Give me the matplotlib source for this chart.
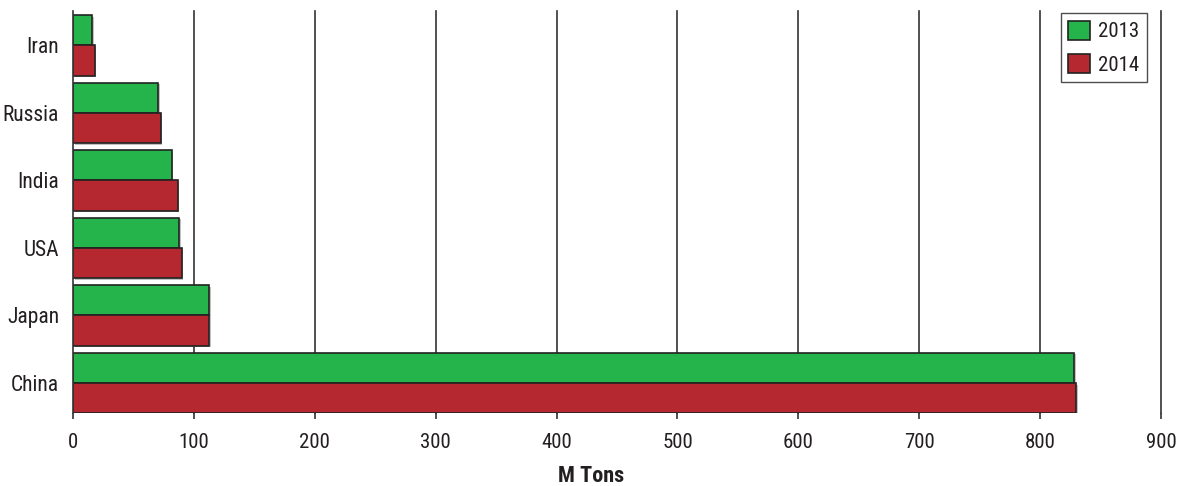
import matplotlib
matplotlib.use("Agg")
import matplotlib.pyplot as plt
import matplotlib.patheffects as pe
import numpy as np

countries = ["China", "Japan", "USA", "India", "Russia", "Iran"]
tons_2013 = [828, 112.5, 88, 81.5, 70.5, 16]
tons_2014 = [830, 112.5, 90, 86.5, 72.5, 18]
series_labels = ["2013", "2014"]
x_ticks = [0, 100, 200, 300, 400, 500, 600, 700, 800, 900]

plt.rcParams["font.family"] = ["Roboto Condensed", "Lato", "DejaVu Sans"]
text_color = "#231f20"
green = "#25b34b"
red = "#b5282f"

fig = plt.figure(figsize=(11.89, 4.86), dpi=100)
ax = fig.add_axes([0.0614, 0.1496, 0.9151, 0.8271])

y = np.arange(len(countries))
h = 0.45
shadow = [pe.SimplePatchShadow(offset=(1.2, -1.2), shadow_rgbFace="#999999", alpha=0.6), pe.Normal()]
b1 = ax.barh(y + h / 2, tons_2013, height=h, color=green, edgecolor="#222222",
             linewidth=1.2, label=series_labels[0], zorder=3)
b2 = ax.barh(y - h / 2, tons_2014, height=h, color=red, edgecolor="#222222",
             linewidth=1.2, label=series_labels[1], zorder=3)
for bar in list(b1) + list(b2):
    bar.set_path_effects(shadow)

ax.set_xlim(0, 900)
ax.set_ylim(-0.45, 5.505)
ax.set_xticks(x_ticks)
ax.set_yticks(y)
ax.set_yticklabels(countries)

for xv in x_ticks[1:]:
    ax.axvline(xv, color="#333333", linewidth=1.2, zorder=1, clip_on=False)

for s in ["top", "right", "bottom"]:
    ax.spines[s].set_visible(False)
ax.spines["left"].set_color("#333333")
ax.spines["left"].set_linewidth(1.2)
ax.spines["left"].set_zorder(4)

ax.tick_params(axis="y", length=0, pad=10, labelsize=15.5, labelcolor=text_color)
ax.tick_params(axis="x", length=4.5, width=1.2, color="#333333", pad=9.5,
               labelsize=15, labelcolor=text_color)

fig.text(591 / 1189, 1 - 476 / 486, "M Tons", fontsize=16, fontweight="bold",
         color=text_color, ha="center", va="center")

leg = ax.legend(loc="upper right", bbox_to_anchor=(0.987, 0.995), fontsize=15,
                frameon=True, fancybox=False, handlelength=1.04, handleheight=1.04,
                handletextpad=0.4, labelspacing=0.62, borderpad=0.35, borderaxespad=0)
leg.get_frame().set_edgecolor("#222222")
leg.get_frame().set_linewidth(1.0)
for t in leg.get_texts():
    t.set_color(text_color)
for p in leg.get_patches():
    p.set_path_effects([])

fig.savefig("out.png", dpi=100, facecolor="white")
